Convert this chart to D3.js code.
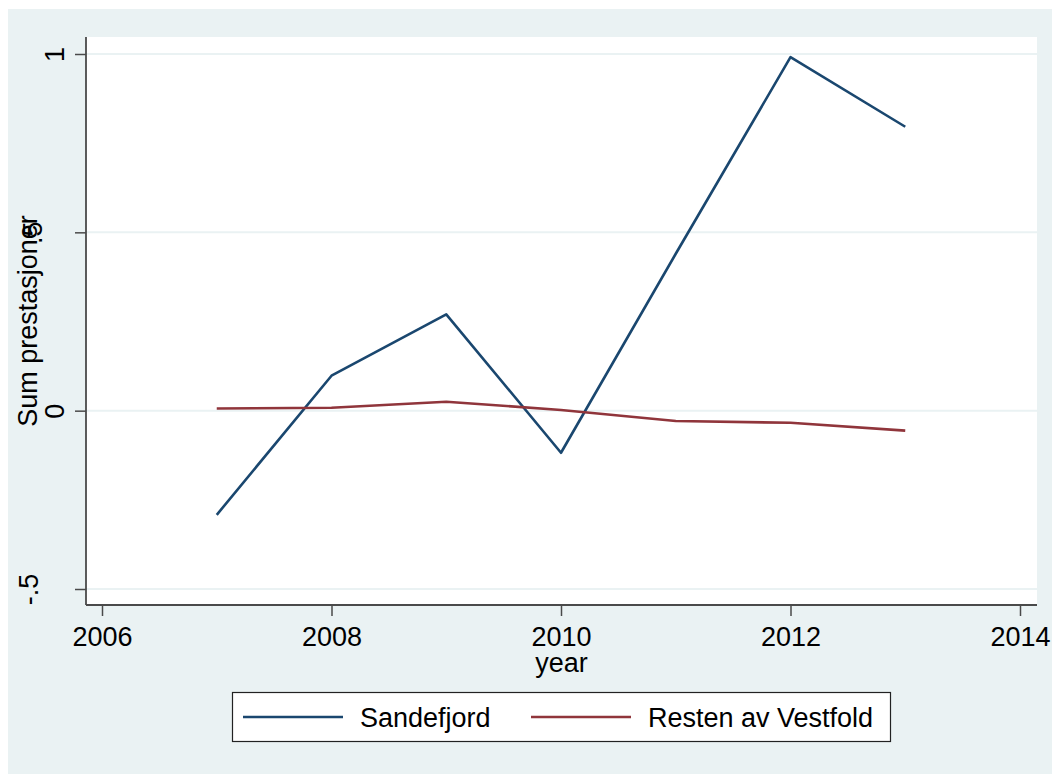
<!DOCTYPE html>
<html>
<head>
<meta charset="utf-8">
<script src="https://cdn.jsdelivr.net/npm/d3@7"></script>
<style>
  body { margin: 0; background: #fff; }
  svg { display: block; font-family: "Liberation Sans", Arial, sans-serif; }
</style>
</head>
<body>
<svg id="chart" width="1052" height="774"></svg>
<script>
var years = [2007, 2008, 2009, 2010, 2011, 2012, 2013];
var sandefjord = [-0.292, 0.098, 0.27, -0.118, 0.44, 0.991, 0.796];
var resten = [0.006, 0.008, 0.025, 0.002, -0.029, -0.034, -0.056];
var xTicks = [2006, 2008, 2010, 2012, 2014];
var yTicks = [-0.5, 0, 0.5, 1];
var yTickLabels = ["-.5", "0", ".5", "1"];
var seriesNames = ["Sandefjord", "Resten av Vestfold"];
var seriesColors = ["#1a476f", "#90353b"];

var svg = d3.select("#chart");
var axisColor = "#4a4a4a";
var fontSize = 27;

// plot box
var plot = { left: 86, right: 1037, top: 37, bottom: 605 };

var x = d3.scaleLinear().domain([2006, 2014]).range([102, 1020]);
var y = d3.scaleLinear().domain([-0.5, 1]).range([589, 54]);

// the rotated labels with a dot sit further left in the original
var yLabelShift = function(label) {
  if (label === "-.5") return -48;
  if (label === ".5") return -44;
  return -22;
};

// graph region
svg.append("rect")
  .attr("x", 8).attr("y", 9)
  .attr("width", 1052 - 8).attr("height", 774 - 9)
  .attr("fill", "#eaf2f3");

svg.append("rect")
  .attr("x", plot.left).attr("y", plot.top)
  .attr("width", plot.right - plot.left).attr("height", plot.bottom - plot.top)
  .attr("fill", "#ffffff");

// gridlines
svg.append("g")
  .selectAll("line")
  .data(yTicks)
  .join("line")
  .attr("x1", plot.left).attr("x2", plot.right)
  .attr("y1", d => y(d)).attr("y2", d => y(d))
  .attr("stroke", "#eaf2f3")
  .attr("stroke-width", 2);

// lines
var line = d3.line()
  .x((d, i) => x(years[i]))
  .y(d => y(d));

[sandefjord, resten].forEach(function(values, k) {
  svg.append("path")
    .datum(values)
    .attr("d", line)
    .attr("fill", "none")
    .attr("stroke", seriesColors[k])
    .attr("stroke-width", 2.6)
    .attr("stroke-linejoin", "round");
});

// y axis
var yAxis = svg.append("g")
  .attr("transform", "translate(" + plot.left + ",0)")
  .call(d3.axisLeft(y)
    .tickValues(yTicks)
    .tickSize(11)
    .tickFormat((d, i) => yTickLabels[i]));
yAxis.select(".domain").remove();
yAxis.selectAll(".tick line").attr("stroke", axisColor).attr("stroke-width", 1.5);
yAxis.selectAll(".tick text")
  .attr("x", null).attr("dy", null)
  .attr("text-anchor", "middle")
  .attr("transform", (d, i) => "translate(" + yLabelShift(yTickLabels[i]) + ",0) rotate(-90)")
  .attr("fill", "#000")
  .style("font-size", fontSize + "px")
  .style("font-family", "'Liberation Sans', Arial, sans-serif");

// x axis
var xAxis = svg.append("g")
  .attr("transform", "translate(0," + plot.bottom + ")")
  .call(d3.axisBottom(x)
    .tickValues(xTicks)
    .tickSize(11)
    .tickFormat(d3.format("d")));
xAxis.select(".domain").remove();
xAxis.selectAll(".tick line").attr("stroke", axisColor).attr("stroke-width", 1.5);
xAxis.selectAll(".tick text")
  .attr("y", 41).attr("dy", null)
  .attr("fill", "#000")
  .style("font-size", fontSize + "px")
  .style("font-family", "'Liberation Sans', Arial, sans-serif");

// axis lines
svg.append("line")
  .attr("x1", plot.left).attr("x2", plot.left)
  .attr("y1", plot.top).attr("y2", plot.bottom)
  .attr("stroke", axisColor).attr("stroke-width", 1.8);
svg.append("line")
  .attr("x1", plot.left).attr("x2", plot.right)
  .attr("y1", plot.bottom).attr("y2", plot.bottom)
  .attr("stroke", axisColor).attr("stroke-width", 1.8);

// axis titles
svg.append("text")
  .attr("x", (plot.left + plot.right) / 2)
  .attr("y", 672)
  .attr("text-anchor", "middle")
  .style("font-size", fontSize + "px")
  .text("year");

svg.append("text")
  .attr("transform", "translate(37," + (plot.top + plot.bottom) / 2 + ") rotate(-90)")
  .attr("text-anchor", "middle")
  .style("font-size", fontSize + "px")
  .text("Sum prestasjoner");

// legend
var legend = svg.append("g");
legend.append("rect")
  .attr("x", 232.5).attr("y", 692.5)
  .attr("width", 658).attr("height", 49)
  .attr("fill", "#fff")
  .attr("stroke", "#222")
  .attr("stroke-width", 1.2);

var legendX = [243, 531];
seriesNames.forEach(function(name, k) {
  legend.append("line")
    .attr("x1", legendX[k]).attr("x2", legendX[k] + 100)
    .attr("y1", 717).attr("y2", 717)
    .attr("stroke", seriesColors[k])
    .attr("stroke-width", 2.6);
  legend.append("text")
    .attr("x", legendX[k] + 117)
    .attr("y", 727)
    .style("font-size", fontSize + "px")
    .text(name);
});
</script>
</body>
</html>
